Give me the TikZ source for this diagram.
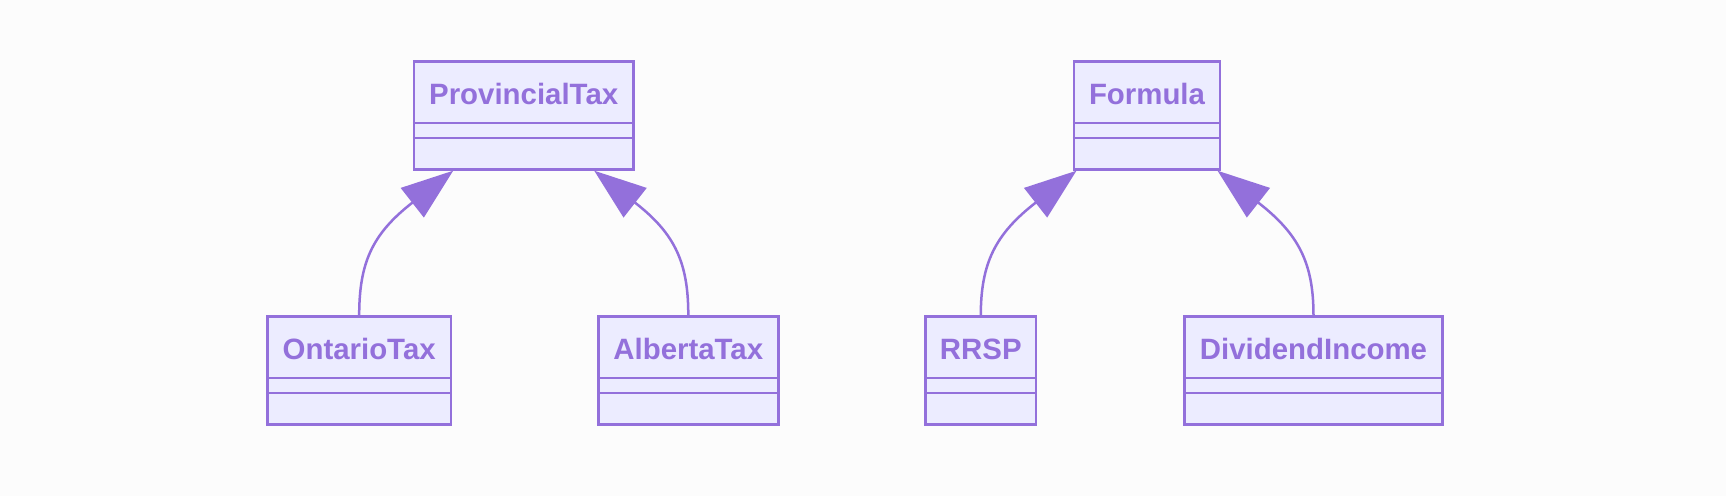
\documentclass[tikz,border=0pt]{standalone}
\usepackage{fontspec}
\setmainfont{Liberation Sans}
\usetikzlibrary{calc,arrows.meta}
\definecolor{bgc}{HTML}{FCFCFC}
\definecolor{boxfill}{HTML}{ECECFF}
\definecolor{purp}{HTML}{9370DB}
\tikzset{
  classbox/.style={draw=purp, fill=boxfill, line width=1.2pt, minimum height=54pt, inner sep=0pt},
  classtitle/.style={text=purp, font=\fontsize{14.7}{16}\selectfont\bfseries, inner sep=0pt},
  divider/.style={draw=purp, line width=1.2pt},
  inherit/.style={draw=purp, line width=1.25pt, -{Triangle[length=26pt,width=18.5pt,fill=purp]}},
}
\newcommand\umlclass[4]{%
  \node[classbox, minimum width=#3] (#1) at (#2) {};
  \node[classtitle, anchor=base] (#1t) at ($(#1.north)+(0,44.5)$) {#4};
  \draw[divider] ($(#1.north west)+(0,63)$) -- ($(#1.north east)+(0,63)$);
  \draw[divider] ($(#1.north west)+(0,78)$) -- ($(#1.north east)+(0,78)$);
}
\begin{document}
\begin{tikzpicture}[x=0.5pt,y=-0.5pt]
\fill[bgc] (0,0) rectangle (1726,496);
\useasboundingbox (0,0) rectangle (1726,496);

\umlclass{pt}{523.7,115.5}{109.65pt}{ProvincialTax}
\umlclass{ot}{359.2,370.5}{91.85pt}{OntarioTax}
\umlclass{ab}{688.3,370.5}{90pt}{AlbertaTax}
\umlclass{fm}{1147,115.5}{73pt}{Formula}
\umlclass{rr}{980.8,370.5}{55.35pt}{RRSP}
\umlclass{di}{1313.5,370.5}{129.15pt}{DividendIncome}

\coordinate (t1) at ($(pt.south)+(-70.5,0)$);
\coordinate (b1) at ($(t1)+(-41.9,32.8)$);
\coordinate (t2) at ($(pt.south)+(70.5,0)$);
\coordinate (b2) at ($(t2)+(41.9,32.8)$);
\coordinate (t3) at ($(fm.south)+(-70.5,0)$);
\coordinate (b3) at ($(t3)+(-41.9,32.8)$);
\coordinate (t4) at ($(fm.south)+(70.5,0)$);
\coordinate (b4) at ($(t4)+(41.9,32.8)$);

\draw[inherit] (ot.north) .. controls +(0,-52) and +(-39.3,30.9) .. (b1) -- (t1);
\draw[inherit] (ab.north) .. controls +(0,-52) and +(39.3,30.9) .. (b2) -- (t2);
\draw[inherit] (rr.north) .. controls +(0,-52) and +(-39.3,30.9) .. (b3) -- (t3);
\draw[inherit] (di.north) .. controls +(0,-52) and +(39.3,30.9) .. (b4) -- (t4);
\end{tikzpicture}
\end{document}
